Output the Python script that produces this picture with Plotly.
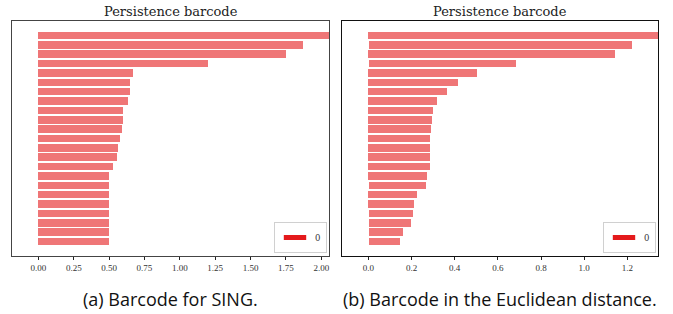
import math
import plotly.graph_objects as go

# ---- data ----
# (a) SING barcode: births and deaths of dimension-0 intervals, longest first
sing_birth = [0.0] * 23
sing_death = [math.inf, 1.868, 1.754, 1.202, 0.670, 0.649, 0.649, 0.635,
              0.600, 0.600, 0.593, 0.578, 0.564, 0.557, 0.529,
              0.500, 0.500, 0.500, 0.500, 0.500, 0.500, 0.500, 0.500]

# (b) Euclidean barcode
eucl_birth = [0.0, 0.005, 0.0, 0.005, 0.0, 0.0, 0.0, 0.0, 0.0, 0.0, 0.0, 0.0,
              0.0, 0.0, 0.0, 0.0, 0.005, 0.0, 0.0, 0.005, 0.005, 0.005, 0.005]
eucl_death = [math.inf, 1.220, 1.143, 0.682, 0.502, 0.414, 0.363, 0.317,
              0.298, 0.294, 0.289, 0.284, 0.284, 0.284, 0.284, 0.270,
              0.266, 0.224, 0.210, 0.206, 0.197, 0.160, 0.146]

dimension_label = "0"
title_text = "Persistence barcode"
captions = ["(a) Barcode for SING.", "(b) Barcode in the Euclidean distance."]
sing_ticks = [0.0, 0.25, 0.5, 0.75, 1.0, 1.25, 1.5, 1.75, 2.0]
eucl_ticks = [0.0, 0.2, 0.4, 0.6, 0.8, 1.0, 1.2]

BAR_COLOR = "rgba(228,26,28,0.6)"
LEG_COLOR = "rgb(228,26,28)"
W, H = 673, 314

fig = go.Figure()


def add_barcode(births, deaths, xa, ya, legend_name):
    finite = [d for d in deaths if math.isfinite(d)]
    mx = max(finite)
    mn = min(births)
    delta = 0.1 * (mx - mn)
    inf_end = mx + delta
    ends = [d if math.isfinite(d) else inf_end for d in deaths]
    idx = list(range(len(births)))
    fig.add_trace(go.Bar(
        orientation="h", y=idx, x=[e - b for b, e in zip(births, ends)],
        base=births, width=0.8, marker=dict(color=BAR_COLOR, line=dict(width=0)),
        xaxis=xa, yaxis=ya, showlegend=False, hoverinfo="skip"))
    # legend entry (solid colour patch, as in the source figure)
    fig.add_trace(go.Scatter(
        x=[None], y=[None], mode="markers", name=dimension_label,
        marker=dict(symbol="line-ew", size=16, color=LEG_COLOR,
                    line=dict(color=LEG_COLOR, width=5)),
        xaxis=xa, yaxis=ya, legend=legend_name, showlegend=True))
    n = len(births)
    pad = 0.05 * (n - 1 + 0.8)
    return [mn - delta, inf_end], [n - 1 + 0.4 + pad, -0.4 - pad]


xr1, yr1 = add_barcode(sing_birth, sing_death, "x", "y", "legend")
xr2, yr2 = add_barcode(eucl_birth, eucl_death, "x2", "y2", "legend2")

ydom = [1 - 256 / H, 1 - 21 / H]
tickfont = dict(family="Liberation Serif", size=9, color="#333")

axis_common = dict(showline=True, mirror=True, showgrid=False, zeroline=False,
                   ticks="outside", ticklen=3, tickwidth=1, tickcolor="#222",
                   tickfont=tickfont, fixedrange=True)

legend_common = dict(yanchor="bottom", xanchor="right", y=1 - 253 / H,
                     bordercolor="#d0d0d0", borderwidth=1, bgcolor="white",
                     font=dict(family="DejaVu Serif", size=8.5, color="#333"),
                     itemwidth=30, tracegroupgap=0)

fig.update_layout(
    width=W, height=H, margin=dict(l=0, r=0, t=0, b=0),
    paper_bgcolor="white", plot_bgcolor="white", bargap=0,
    xaxis=dict(domain=[12 / W, 329 / W], range=xr1, tickvals=sing_ticks,
               ticktext=[f"{v:.2f}" for v in sing_ticks],
               linecolor="#444", linewidth=1.3, anchor="y", **axis_common),
    yaxis=dict(domain=ydom, range=yr1, showline=True, mirror=True,
               linecolor="#444", linewidth=1.3, showticklabels=False,
               showgrid=False, zeroline=False, ticks="", anchor="x"),
    xaxis2=dict(domain=[342 / W, 658 / W], range=xr2, tickvals=eucl_ticks,
                ticktext=[f"{v:.1f}" for v in eucl_ticks],
                linecolor="#111", linewidth=1, anchor="y2", **axis_common),
    yaxis2=dict(domain=ydom, range=yr2, showline=True, mirror=True,
                linecolor="#111", linewidth=1, showticklabels=False,
                showgrid=False, zeroline=False, ticks="", anchor="x2"),
    legend=dict(x=327 / W, **legend_common),
    legend2=dict(x=656 / W, **legend_common),
)

for xd, cap in zip(["x domain", "x2 domain"], captions):
    fig.add_annotation(text=title_text, xref=xd, yref="paper", x=0.5,
                       y=1 - 12 / H, showarrow=False, yanchor="middle",
                       font=dict(family="DejaVu Serif", size=13, color="#222"))
    fig.add_annotation(text=cap, xref=xd, yref="paper", x=0.5,
                       y=1 - 299 / H, showarrow=False, yanchor="middle",
                       font=dict(family="Open Sans", size=18, color="#111"))

fig.write_html("out.html", config={"displayModeBar": False},
               post_script="document.body.style.margin='0';")
